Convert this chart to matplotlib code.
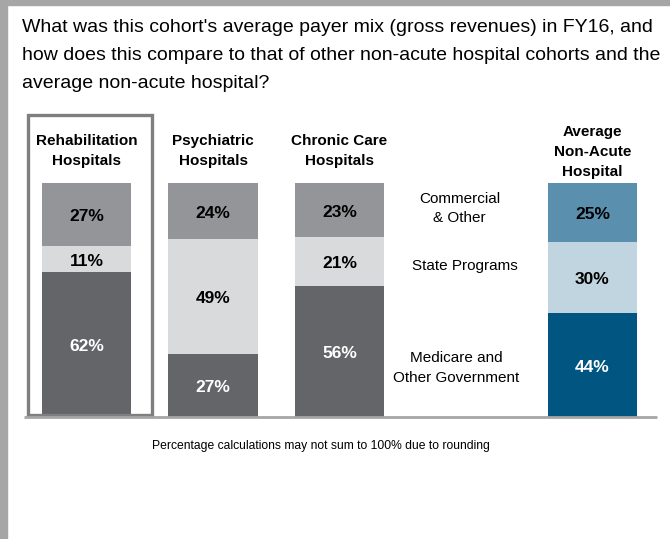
import numpy as np
import matplotlib
matplotlib.use('Agg')
import matplotlib.pyplot as plt
from matplotlib.patches import Rectangle

plt.rcParams['font.family'] = ['Liberation Sans', 'DejaVu Sans']

# data
cohorts = ['Rehabilitation\nHospitals', 'Psychiatric\nHospitals', 'Chronic Care\nHospitals',
           'Average\nNon-Acute\nHospital']
positions = [0, 1, 2, 4]
payers = ['Medicare and\nOther Government', 'State Programs', 'Commercial\n& Other']
medicare = [62, 27, 56, 44]
state = [11, 49, 21, 30]
commercial = [27, 24, 23, 25]

title_lines = ["What was this cohort's average payer mix (gross revenues) in FY16, and",
               "how does this compare to that of other non-acute hospital cohorts and the",
               "average non-acute hospital?"]

gray_cols = ['#636569', '#d9dadb', '#939598']
blue_cols = ['#005581', '#c0d5e0', '#5a8fad']
txt_cols = ['white', 'black', 'black']

fig = plt.figure(figsize=(6.7, 5.39), dpi=100)
ax = fig.add_axes([0, (539-417)/539, 1, 234/539])
ax.set_xlim(-(86.5)/126.5, (670-86.5)/126.5)
ax.set_ylim(0, 100)
ax.axis('off')

W = 0.71
series = [medicare, state, commercial]
for i, x in enumerate(positions):
    vals = [s[i] for s in series]
    tot = sum(vals)
    bottom = 0
    cols = blue_cols if i == 3 else gray_cols
    for j, v in enumerate(vals):
        h = v*100.0/tot
        ax.bar(x, h, W, bottom=bottom, color=cols[j], edgecolor='none')
        ax.text(x, bottom+h/2-1, '%d%%' % v, ha='center', va='center',
                fontsize=12.5, fontweight='bold', color=txt_cols[j])
        bottom += h
    hy = 101.5 if i == 3 else 106.5
    ax.text(x, hy, cohorts[i], ha='center', va='bottom', fontsize=11,
            fontweight='bold', linespacing=1.55)

# legend labels in the gap
leg_y = [21, 64.5, 89]
leg_x = [2.92, 2.99, 2.95]
for k in range(3):
    ax.text(leg_x[k], leg_y[k], payers[k], ha='center', va='center', fontsize=11,
            linespacing=1.5)

# baseline
ax.plot([(24-86.5)/126.5, (657-86.5)/126.5], [0, 0], color='#a6a6a6', lw=2,
        clip_on=False, solid_capstyle='butt')

# highlight box around rehab
ax.add_patch(Rectangle(((28-86.5)/126.5, 0.9), (152-28)/126.5, (415-113)/2.34 - 0.9,
                       fill=False, edgecolor='#7f7f7f', lw=2.4, clip_on=False))

# frame of the slide
fig.patches.append(Rectangle((0, 1-5/539), 1, 5/539, transform=fig.transFigure,
                             color='#a6a6a6', zorder=10))
fig.patches.append(Rectangle((0, 0), 7/670, 1, transform=fig.transFigure,
                             color='#a6a6a6', zorder=10))

for k, line in enumerate(title_lines):
    fig.text(22/670, 1-(28+27.5*k)/539, line, ha='left', va='center', fontsize=14)

fig.text(321/670, 1-446/539, 'Percentage calculations may not sum to 100% due to rounding',
         ha='center', va='center', fontsize=8.7)

fig.savefig('out.png', dpi=100)
